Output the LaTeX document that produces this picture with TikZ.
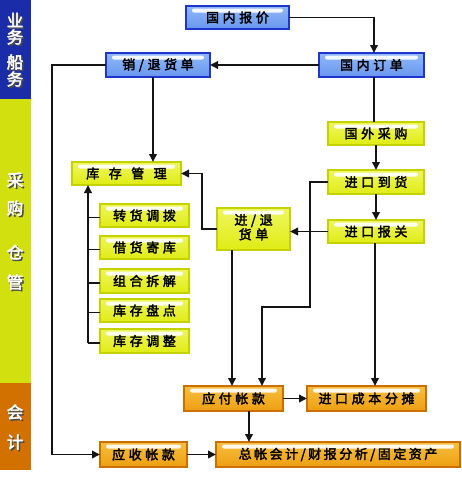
\documentclass[tikz,border=0pt]{standalone}
\usepackage{fontspec}
\newfontfamily\cjk{Noto Sans CJK SC}[AutoFakeBold=2.5]
\usetikzlibrary{arrows.meta,calc}
\definecolor{bandblue}{HTML}{1A2CA8}
\definecolor{bandyel}{HTML}{D2E010}
\definecolor{bandora}{HTML}{D27000}
\definecolor{bbord}{HTML}{1E36CC}
\definecolor{bfill}{HTML}{6896EE}
\definecolor{bfillt}{HTML}{90B8F8}
\definecolor{ybord}{HTML}{C4D200}
\definecolor{yfill}{HTML}{E0EC14}
\definecolor{yfillt}{HTML}{EEF660}
\definecolor{obord}{HTML}{CC6E00}
\definecolor{ofill}{HTML}{EE9E10}
\definecolor{ofillt}{HTML}{F6C040}
\definecolor{ln}{HTML}{141414}
\def\lsp{3.6pt}
\def\spc#1{\spcA#1\relax}
\def\spcA#1#2{#1\ifx\relax#2\else\hspace{\lsp}\expandafter\spcA\expandafter#2\fi}
\tikzset{
  gloss/.style={path picture={\fill[white,opacity=0.9,rounded corners=2pt]
      ([xshift=6pt,yshift=-2.5pt]path picture bounding box.north west) rectangle
      ([xshift=-6pt,yshift=-6.5pt]path picture bounding box.north east);}},
  box/.style={rectangle,inner sep=0pt,outer sep=0pt,line width=1.4pt,gloss,
      font=\cjk\bfseries\fontsize{13}{15}\selectfont,text=black,align=center},
  bluebox/.style={box,draw=bbord,top color=bfillt,bottom color=bfill},
  yelbox/.style={box,draw=ybord,top color=yfillt,bottom color=yfill},
  orabox/.style={box,draw=obord,top color=ofillt,bottom color=ofill},
  lnk/.style={draw=ln,line width=1.8pt},
  arr/.style={lnk,-{Triangle[length=8pt,width=7.5pt]}},
  bandtxt/.style={inner sep=0pt,text=white,font=\cjk\bfseries\fontsize{16.5}{18}\selectfont},
  bandshd/.style={inner sep=0pt,text=black!70,font=\cjk\bfseries\fontsize{16.5}{18}\selectfont},
}
\begin{document}
\begin{tikzpicture}[x=1pt,y=-1pt]
\useasboundingbox (0,0) rectangle (462,480);
\fill[white] (0,0) rectangle (462,480);
% left band
\fill[bandblue] (0,0) rectangle (31,99);
\fill[bandyel] (0,99) rectangle (31,383);
\fill[bandora] (0,383) rectangle (31,470);
\foreach \t/\yy [count=\i] in {业/20,务/37,船/62,务/79,采/180,购/208,仓/252,管/282,会/412,计/442}{
  \node[bandshd] (s\i) at (16.5,\yy+1.5) {\t};
  \node[bandtxt] (t\i) at (15,\yy) {\t};
}
% boxes
\node[bluebox,minimum width=103,minimum height=23] (bj) at (237.5,17.5) {\spc{国内报价}};
\node[bluebox,minimum width=104,minimum height=24] (xt) at (158,65) {\spc{销/退货单}};
\node[bluebox,minimum width=105,minimum height=24] (dd) at (371.5,65) {\spc{国内订单}};
\node[yelbox,minimum width=96,minimum height=23] (cg) at (376,133.5) {\spc{国外采购}};
\node[yelbox,minimum width=96,minimum height=24] (dh) at (376,182) {\spc{进口到货}};
\node[yelbox,minimum width=96,minimum height=23] (bg) at (376,231.5) {\spc{进口报关}};
\node[yelbox,minimum width=73,minimum height=42] (jt) at (253.5,229) {\raisebox{-2pt}{\begin{tabular}{@{}c@{}}\spc{进/退}\\[-1pt]\spc{货单}\end{tabular}}};
\node[yelbox,minimum width=109,minimum height=23] (kc) at (126.5,173.5) {{\def\lsp{9.5pt}\spc{库存管理}}};
\node[yelbox,minimum width=89,minimum height=23] (zh) at (144.5,215.5) {\spc{转货调拨}};
\node[yelbox,minimum width=89,minimum height=23] (jh) at (144.5,247.5) {\spc{借货寄库}};
\node[yelbox,minimum width=89,minimum height=24] (zc) at (144.5,281) {\spc{组合拆解}};
\node[yelbox,minimum width=89,minimum height=23] (pd) at (144.5,310.5) {\spc{库存盘点}};
\node[yelbox,minimum width=89,minimum height=24] (tz) at (144.5,341) {\spc{库存调整}};
\node[orabox,minimum width=99,minimum height=25] (yf) at (233.5,398.5) {\spc{应付帐款}};
\node[orabox,minimum width=119,minimum height=25] (ft) at (366.5,398.5) {\spc{进口成本分摊}};
\node[orabox,minimum width=87,minimum height=25] (ys) at (143.5,454.5) {\spc{应收帐款}};
\node[orabox,minimum width=244,minimum height=25] (zz) at (338,454.5) {{\def\lsp{2.5pt}\spc{总帐会计/财报分析/固定资产}}};
% connectors
\coordinate (ddn) at ([xshift=2.5pt]dd.north);
\draw[arr] (bj.east) -| (ddn);
\draw[arr] (dd.west) -- (xt.east);
\coordinate (lft) at (52,454.5);
\draw[arr] (xt.west) -| (lft) -- (ys.west);
\coordinate (xts) at ([xshift=-5pt]xt.south);
\draw[arr] (xts) -- (xts |- kc.north);
\coordinate (dds) at ([xshift=2.5pt]dd.south);
\draw[lnk] (dds) -- (dds |- cg.north);
\draw[arr] (cg.south) -- (dh.north);
\draw[arr] (dh.south) -- (bg.north);
\draw[arr] (bg.west) -- (bg.west -| jt.east);
\coordinate (b1) at (310,307);
\coordinate (b2) at (262,307);
\draw[arr] (dh.west) -| (b1) -- (b2) -- (b2 |- yf.north);
\coordinate (bgs) at ([xshift=-1pt]bg.south);
\draw[arr] (bgs) -- (bgs |- ft.north);
\coordinate (jts) at ([xshift=-21.5pt]jt.south);
\draw[arr] (jts) -- (jts |- yf.north);
\coordinate (c3) at (202,0);
\draw[arr] (jt.west) -| (c3 |- kc.east) -- (kc.east);
% bracket
\coordinate (br) at (88,0);
\draw[arr] ([yshift=-2pt]br |- tz.west) -- (br |- kc.south);
\foreach \n in {zh,jh,zc,pd}{\draw[lnk] ([yshift=-2pt]br |- \n.west) -- ([yshift=-2pt]\n.west);}
\draw[lnk] ([yshift=-2pt]br |- tz.west) -- ([yshift=-2pt]tz.west);
\draw[arr] (yf.east) -- (ft.west);
\coordinate (yfs) at ([xshift=15.5pt]yf.south);
\draw[arr] (yfs) -- (yfs |- zz.north);
\draw[arr] (ys.east) -- (zz.west);
\end{tikzpicture}
\end{document}
